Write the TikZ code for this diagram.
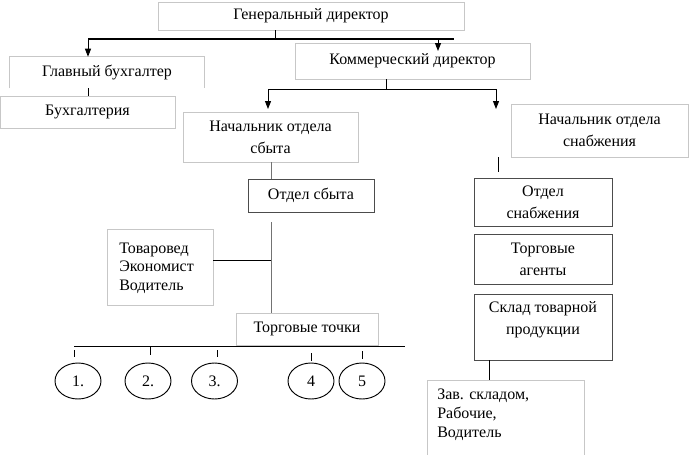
\documentclass[tikz,border=0pt]{standalone}
\usepackage{fontspec}
\setmainfont{Liberation Serif}
\usetikzlibrary{arrows.meta,shapes.geometric}
\begin{document}
\begin{tikzpicture}[x=0.75pt,y=-0.75pt,
  every node/.style={font=\fontsize{12}{16.5}\selectfont, inner sep=0pt},
  lbox/.style={draw=black!22, line width=0.6pt, rectangle, align=center},
  lline/.style={draw=black!22, line width=0.6pt},
  dbox/.style={draw=black!70, line width=0.65pt, rectangle, align=center},
  conn/.style={line width=0.75pt, draw=black},
  gconn/.style={line width=0.75pt, draw=black!55},
  bus/.style={line width=1.5pt, draw=black},
  arr/.style={conn, -{Triangle[length=6pt,width=4.5pt]}},
  circ/.style={ellipse, draw, line width=0.7pt, minimum width=34.5pt, minimum height=27pt}]
\useasboundingbox (0,0) rectangle (689,454);

% boxes
\node[lbox, minimum width=229.5pt, minimum height=21pt] (gen) at (311,16) {Генеральный директор};
\node[minimum width=145.5pt, minimum height=23.25pt] (glav) at (107,72.5) {Главный бухгалтер};
\draw[lline] (glav.south west) -- (glav.north west) -- (glav.north east) -- (glav.south east);
\node[lbox, minimum width=131.25pt, minimum height=24pt] (buh) at (87.5,112) {Бухгалтерия};
\node[lbox, minimum width=176.25pt, minimum height=27pt] (kom) at (412.5,61) {Коммерческий директор};
\node[lbox, minimum width=131.25pt, minimum height=37.5pt] (nsb) at (270.5,137) {Начальник отдела\\сбыта};
\node[lbox, minimum width=132.75pt, minimum height=39.75pt] (nsn) at (599.5,130.5) {Начальник отдела\\снабжения};
\node[dbox, minimum width=94.5pt, minimum height=24.75pt] (osb) at (311,195.5) {Отдел сбыта};
\node[lbox, minimum width=79.5pt, minimum height=57pt] (tov) at (160,267) {};
\node[align=left, anchor=west, font=\fontsize{12}{14}\selectfont] (tovt) at (119,268) {Товаровед\\Экономист\\Водитель};
\node[lbox, minimum width=106.5pt, minimum height=24pt] (tt) at (307,329) {Торговые точки};
\node[dbox, minimum width=103.5pt, minimum height=36pt] (osn) at (543,202) {Отдел\\снабжения};
\node[dbox, minimum width=103.5pt, minimum height=37.5pt] (ag) at (543,259) {Торговые\\агенты};
\node[dbox, minimum width=103.5pt, minimum height=49.5pt] (sk) at (543,327) {};
\node[align=center] (skt) at (543,320) {Склад товарной\\продукции};
\node[minimum width=117.75pt, minimum height=56pt, anchor=north west] (zav) at (427,380) {};
\draw[lline] (zav.south west) -- (zav.north west) -- (zav.north east) -- (zav.south east);
\node[align=left, anchor=west, font=\fontsize{12}{14.25}\selectfont] (zavt) at (437,415) {Зав. складом,\\Рабочие,\\Водитель};

% circles
\foreach \i/\x/\t in {1/78/1.,2/148/2.,3/214.5/3.,4/311/4,5/362/5}
  \node[circ] (c\i) at (\x,381) {\t};

% top level connectors
\coordinate (g1) at (275,39);
\coordinate (bL) at (88,39);
\coordinate (bR) at (454,39);
\coordinate (kA) at (438,39);
\coordinate (kT) at (438,51);
\draw[conn] (gen.south -| g1) -- (g1);
\draw[bus] (bL) -- (bR);
\draw[arr] (bL) -- (bL |- glav.north);
\draw[arr] (kA) -- (kT);
\draw[conn] (glav.south -| bL) -- (buh.north -| bL);

% commercial director bus
\coordinate (k1) at (386,89);
\coordinate (kL) at (268,89);
\coordinate (kR) at (496,89);
\coordinate (kLt) at (268,109);
\coordinate (kRt) at (496,109);
\draw[conn] (kom.south -| k1) -- (k1);
\draw[conn] (kL) -- (kR);
\draw[arr] (kL) -- (kLt);
\draw[arr] (kR) -- (kRt);

% sales branch
\coordinate (s1) at (271,162);
\draw[gconn] (s1) -- (s1 |- osb.north);
\coordinate (tr1) at (271,222);
\draw[gconn] (tr1) -- (tr1 |- tt.north);
\coordinate (tj) at (271,260);
\draw[conn] (tj -| tov.east) -- (tj);
\coordinate (lL) at (74,346);
\coordinate (lR) at (405,346);
\draw[conn] (lL) -- (lR);
\foreach \i/\x/\a/\b in {1/74/350/357,2/150/346/355,3/217/350/357,4/311/353/361,5/362/351/359}{
  \coordinate (ta\i) at (\x,\a);
  \coordinate (tb\i) at (\x,\b);
  \draw[conn] (ta\i) -- (tb\i);
}

% supply branch
\coordinate (n1) at (498,157);
\coordinate (n2) at (498,172);
\draw[conn] (n1) -- (n2);
\coordinate (z1) at (489,360);
\draw[conn] (sk.south -| z1) -- (zav.north -| z1);
\end{tikzpicture}
\end{document}
